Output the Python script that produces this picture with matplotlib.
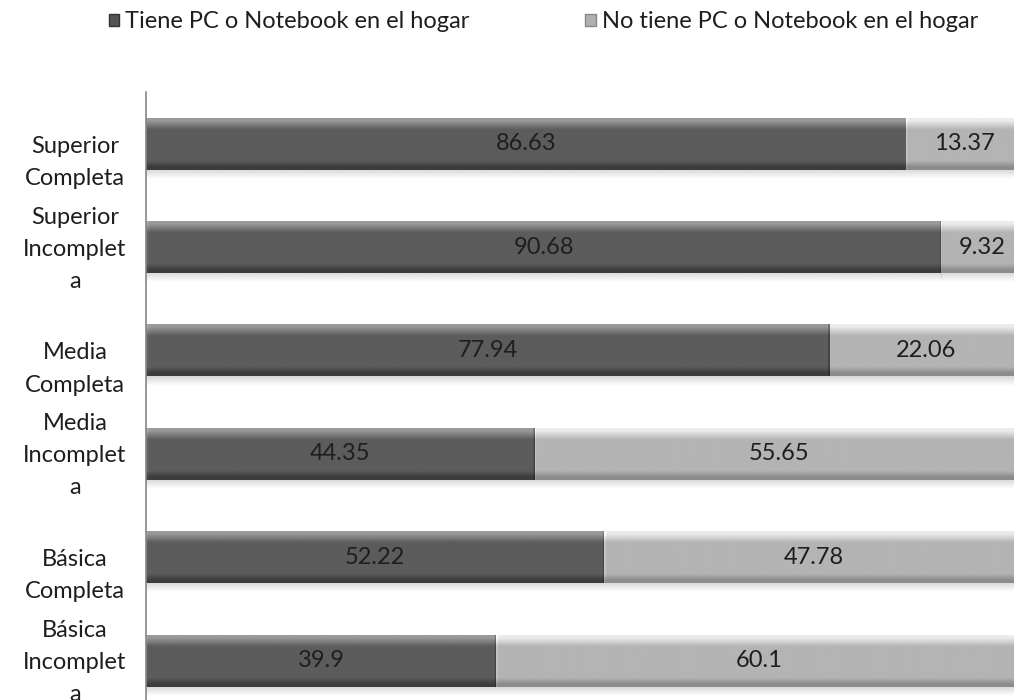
import numpy as np
import matplotlib
matplotlib.use('Agg')
import matplotlib.pyplot as plt
from matplotlib.patches import Patch
from matplotlib import transforms
from matplotlib.colors import to_rgb

categorias = ['Superior\nCompleta', 'Superior\nIncomplet\na', 'Media\nCompleta',
              'Media\nIncomplet\na', 'Básica\nCompleta', 'Básica\nIncomplet\na']
tiene = [86.63, 90.68, 77.94, 44.35, 52.22, 39.9]
no_tiene = [13.37, 9.32, 22.06, 55.65, 47.78, 60.1]
series = ['Tiene PC o Notebook en el hogar', 'No tiene PC o Notebook en el hogar']

plt.rcParams['font.family'] = ['Lato', 'DejaVu Sans']
TXT = '#1e1e1e'
FS = 17

fig = plt.figure(figsize=(10.14, 7.0), dpi=100)
ax = fig.add_axes([146 / 1014, (700 - 712.4) / 700, 877 / 1014, 620.4 / 700])

y = np.arange(len(categorias))[::-1]
h = 0.5

# colores por serie: borde superior claro, cuerpo, borde inferior oscuro
estilos = [('#9a9a9a', '#5c5c5c', '#3c3c3c'), ('#ececec', '#b4b4b4', '#8c8c8c')]


def sombreado(patch, top, base, bottom):
    x0, y0 = patch.get_x(), patch.get_y()
    w, hh = patch.get_width(), patch.get_height()
    p0 = ax.transData.transform((x0, y0))
    p1 = ax.transData.transform((x0 + w, y0 + hh))
    nx = max(int(abs(p1[0] - p0[0])), 2)
    ny = max(int(abs(p1[1] - p0[1])), 2)
    t = np.linspace(0, 1, ny)
    stops_t = [0, 0.05, 0.22, 0.82, 0.94, 1]
    stops_c = [to_rgb(top), to_rgb(top), to_rgb(base), to_rgb(base), to_rgb(bottom), to_rgb(bottom)]
    col = np.stack([np.interp(t, stops_t, [c[k] for c in stops_c]) for k in range(3)], axis=1)
    img = np.repeat(col[:, None, :], nx, axis=1)
    # bisel en los extremos del segmento
    xs = np.arange(nx)
    fac = np.ones(nx)
    fac[xs >= nx - 2] = 0.72
    if nx >= 6:
        fac[:6] = np.linspace(1.12, 1.0, 6)
    img = np.clip(img * fac[None, :, None], 0, 1)
    ax.imshow(img, extent=(x0, x0 + w, y0, y0 + hh), origin='upper',
              aspect='auto', interpolation='bilinear', zorder=3, clip_path=patch)


def sombra(x0, w, yb):
    a = np.linspace(0.35, 0.0, 30)
    rgba = np.zeros((30, 2, 4))
    rgba[..., :3] = 0.55
    rgba[..., 3] = a[:, None]
    ax.imshow(rgba, extent=(x0, x0 + w, yb - 0.09, yb), origin='upper',
              aspect='auto', interpolation='bilinear', zorder=1)


izq = np.zeros(len(y))
for vals, (top, base, bottom) in zip([tiene, no_tiene], estilos):
    bars = ax.barh(y, vals, left=izq, height=h, color=base, edgecolor='none', zorder=2)
    for p in bars:
        sombreado(p, top, base, bottom)
        sombra(p.get_x(), p.get_width(), p.get_y())
    ax.bar_label(bars, labels=[f'{v:g}' for v in vals], label_type='center',
                 fontsize=FS, color=TXT, zorder=5)
    izq = izq + np.array(vals)

ax.set_xlim(0, 100)
ax.set_ylim(-0.5, 5.5)
ax.set_xticks([])
ax.set_yticks([])
for s in ['top', 'right', 'bottom']:
    ax.spines[s].set_visible(False)
ax.spines['left'].set_color('#868686')
ax.spines['left'].set_linewidth(1.2)
ax.spines['left'].set_zorder(6)

# etiquetas de categoría, bloques de tres líneas alineados
mezcla = transforms.blended_transform_factory(fig.transFigure, ax.transData)
for yi, lab in zip(y, categorias):
    n = lab.count('\n') + 1
    off = (3 - n) * 16.5 + 2
    tr = mezcla + transforms.ScaledTranslation(0, -off / 100, fig.dpi_scale_trans)
    ax.text(75 / 1014, yi, lab, transform=tr, ha='center', va='center',
            linespacing=1.65, fontsize=FS, color=TXT, clip_on=False)

handles = [Patch(facecolor='#555555', edgecolor='#333333'),
           Patch(facecolor='#b0b0b0', edgecolor='#888888')]
fig.legend(handles, series, loc='center', bbox_to_anchor=(0.536, 1 - 22 / 700), ncol=2,
           frameon=False, handlelength=0.45, handleheight=0.45, handletextpad=0.25,
           columnspacing=4.9, fontsize=FS, labelcolor=TXT)

fig.savefig('out.png', dpi=100, facecolor='white')
